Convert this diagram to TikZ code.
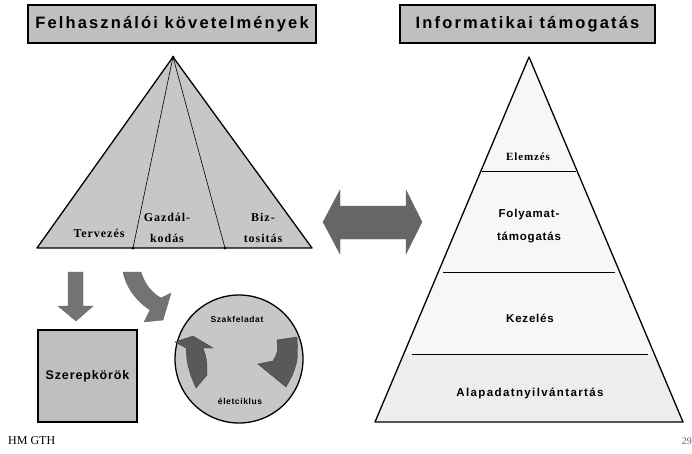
\documentclass[tikz,border=0pt]{standalone}
\usepackage{fontspec}
\setmainfont{Liberation Serif}
\setsansfont{Liberation Sans}
\newfontfamily\titlefont[LetterSpace=13]{Liberation Sans}
\newfontfamily\lsans[LetterSpace=7]{Liberation Sans}
\newfontfamily\wsans[LetterSpace=12]{Liberation Sans}
\newfontfamily\lserif[LetterSpace=8]{Liberation Serif}
\begin{document}
\begin{tikzpicture}[x=1pt,y=-1pt,
  titlebox/.style={draw=black, line width=1.4pt, fill=black!25, inner sep=0pt,
     font=\titlefont\bfseries\fontsize{16.5}{19}\selectfont},
  serlabel/.style={font=\lserif\bfseries\fontsize{12}{21}\selectfont, align=center, inner sep=0pt},
  sanlabel/.style={font=\lsans\bfseries\fontsize{11.5}{23}\selectfont, align=center, inner sep=0pt},
  smalllabel/.style={font=\lsans\bfseries\fontsize{8.5}{10}\selectfont, inner sep=0pt},
  blockarrow/.style={fill=black!55, draw=black!60, line width=0.4pt},
  darkarrow/.style={fill=black!65, draw=black!75, line width=0.4pt},
  divider/.style={draw=black, line width=0.6pt}
]
\useasboundingbox (0,0) rectangle (692,453);
\fill[white] (0,0) rectangle (692,453);

% ---------- left title ----------
\node[titlebox, minimum width=288pt, minimum height=38pt] (t1) at (172,24) {Felhasználói követelmények};
% ---------- right title ----------
\node[titlebox, minimum width=255pt, minimum height=38pt] (t2) at (527.5,24) {Informatikai támogatás};

% ---------- left triangle ----------
\coordinate (la) at (173,57);
\coordinate (ll) at (37,248);
\coordinate (lr) at (312,248);
\coordinate (lb1) at (133,248);
\coordinate (lb2) at (225,248);
\draw[fill=black!22, line width=1.3pt, line join=round] (la) -- (ll) -- (lr) -- cycle;
\draw[line width=0.6pt] (la) -- (lb1);
\draw[line width=0.6pt] (la) -- (lb2);
\fill (lb1) circle (1.5pt);
\fill (lb2) circle (1.5pt);
\fill (la) circle (1.5pt);
\node[serlabel] (terv) at (99,233) {Tervezés};
\node[serlabel] (gazd) at (167,228) {Gazdál-\\kodás};
\node[serlabel] (bizt) at (263,228) {Biz-\\tositás};

% ---------- double arrow ----------
\draw[blockarrow, fill=black!60] (323,222) -- (340,190) -- (340,206) -- (406,206) -- (406,190)
   -- (422,222) -- (406,254) -- (406,239) -- (340,239) -- (340,254) -- cycle;

% ---------- right triangle ----------
\coordinate (ra) at (529,57);
\coordinate (rl) at (375,422);
\coordinate (rr) at (683,422);
\fill[black!3] (ra) -- (rl) -- (rr) -- cycle;
\fill[black!7] (404,354) -- (654,354) -- (rr) -- (rl) -- cycle;
\draw[line width=1.3pt, line join=round] (ra) -- (rl) -- (rr) -- cycle;
\coordinate (d1a) at (482,171); \coordinate (d1b) at (576,171);
\coordinate (d2a) at (443,272); \coordinate (d2b) at (615,272);
\coordinate (d3a) at (412,354); \coordinate (d3b) at (648,354);
\draw[divider] (d1a) -- (d1b);
\draw[divider] (d2a) -- (d2b);
\draw[divider] (d3a) -- (d3b);
\node[serlabel, font=\lserif\bfseries\fontsize{11}{12}\selectfont] (elem) at (528,157) {Elemzés};
\node[sanlabel] (foly) at (529,226) {Folyamat-\\támogatás};
\node[sanlabel] (kez) at (530,318) {Kezelés};
\node[sanlabel, font=\wsans\bfseries\fontsize{11.5}{14}\selectfont] (alap) at (530,393) {Alapadatnyilvántartás};

% ---------- down arrow ----------
\draw[blockarrow] (68,272) -- (83,272) -- (83,306) -- (93,306) -- (76,321) -- (58,306) -- (68,306) -- cycle;

% ---------- curved arrow ----------
\draw[blockarrow] (123,272) -- (141,272) .. controls (145,285) and (152,293) .. (161,298)
   -- (171,293) -- (163,320) -- (144,322) -- (150,310)
   .. controls (138,302) and (127,290) .. (123,272) -- cycle;

% ---------- Szerepkörök box ----------
\node[draw=black, line width=2pt, fill=black!25, minimum width=99pt, minimum height=92pt,
      inner sep=0pt, font=\lsans\bfseries\fontsize{12.5}{14}\selectfont] (szer) at (87.5,376) {Szerepkörök};

% ---------- circle ----------
\node[circle, draw=black, line width=1.3pt, fill=black!22, minimum size=128pt, inner sep=0pt] (kor) at (239,359) {};
\node[smalllabel] (szak) at (237,319) {Szakfeladat};
\node[smalllabel] (elet) at (240,401) {életciklus};
\draw[darkarrow] (175,342) -- (193,336) -- (213,348) -- (203,348) .. controls (207,360) .. (207,375)
   -- (196,388) -- (191,376) .. controls (187,362) .. (186,348) -- cycle;
\draw[darkarrow] (277,340) -- (297,337) .. controls (298,360) .. (292,376) -- (286,387)
   -- (258,364) -- (273,361) .. controls (278,352) .. (277,340) -- cycle;

% ---------- footer ----------
\node[anchor=west, inner sep=0pt, font=\fontsize{12}{14}\selectfont] (hm) at (8,441) {HM GTH};
\node[anchor=east, inner sep=0pt, font=\fontsize{10}{12}\selectfont, text=black!60] (pg) at (692,441) {29};
\end{tikzpicture}
\end{document}
